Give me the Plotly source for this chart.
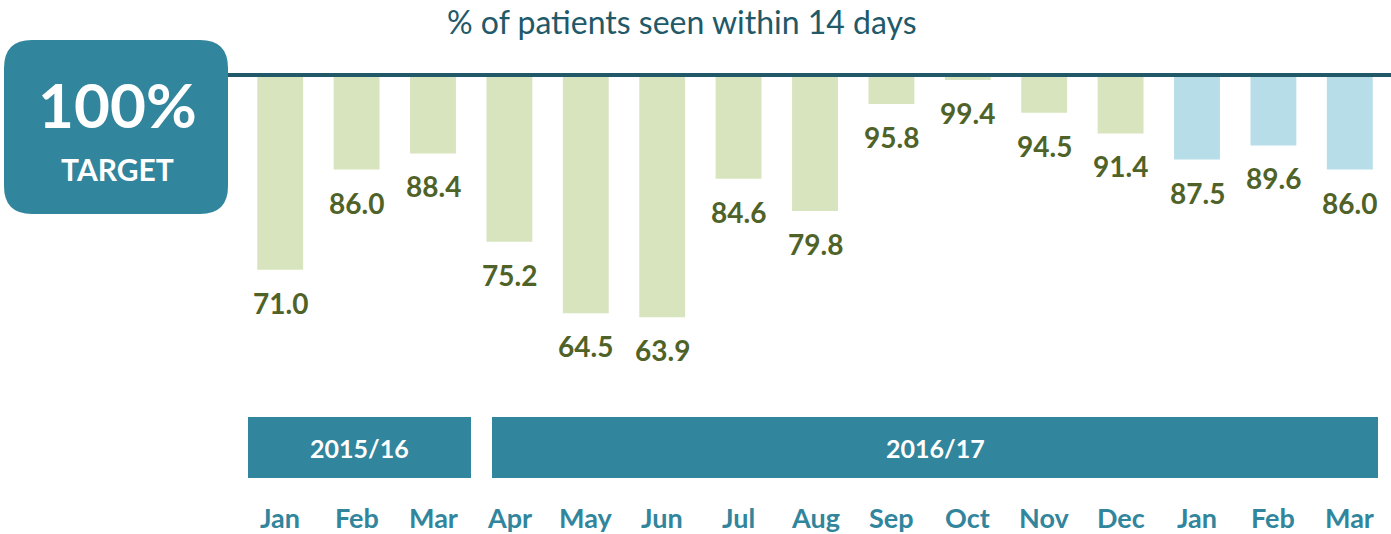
import plotly.graph_objects as go

# ---- data ----
months = ["Jan", "Feb", "Mar", "Apr", "May", "Jun", "Jul", "Aug", "Sep",
          "Oct", "Nov", "Dec", "Jan", "Feb", "Mar"]
values = [71.0, 86.0, 88.4, 75.2, 64.5, 63.9, 84.6, 79.8, 95.8,
          99.4, 94.5, 91.4, 87.5, 89.6, 86.0]
groups = ["a"] * 12 + ["b"] * 3          # colour groups of bars
target = 100
years = ["2015/16", "2016/17"]

# ---- styles ----
GREEN = "#d7e4bd"
BLUE = "#b7dee8"
LABEL = "#4f6228"
TEAL = "#31859c"
DARK = "#215968"
FONT = "Lato, Carlito, sans-serif"

W, H = 1391, 534
ML, MR, MT, MB = 242, 3, 76, 124
PW = W - ML - MR
PH = H - MT - MB
n = len(months)
step = PW / n


def px_x(px):   # pixel -> paper x
    return (px - ML) / PW


def px_y(py):   # pixel -> paper y
    return (H - MB - py) / PH


def px_dx(px):  # pixel -> data x
    return (px - ML) / step - 0.5


xs = list(range(n))
colors = [GREEN if g == "a" else BLUE for g in groups]

fig = go.Figure()
fig.add_trace(go.Bar(
    x=xs,
    base=values,
    y=[target - v for v in values],
    marker=dict(color=colors, line=dict(width=0)),
    width=0.6,
    hoverinfo="skip",
))

annotations = []
for x, v in zip(xs, values):
    annotations.append(dict(
        x=x, y=v, xref="x", yref="y", text=f"{v:.1f}", showarrow=False,
        xanchor="center", yanchor="top", yshift=-14,
        font=dict(family=FONT, size=28, color=LABEL, weight="bold"),
    ))

for x, m in zip(xs, months):
    annotations.append(dict(
        x=x, y=px_y(517), xref="x", yref="paper", text=m, showarrow=False,
        xanchor="center", yanchor="middle",
        font=dict(family=FONT, size=27, color=TEAL, weight="bold"),
    ))

# year boxes
year_spans = [(px_dx(248), px_dx(471)), (px_dx(492), px_dx(1378))]
shapes = []
for (x0, x1), lab in zip(year_spans, years):
    shapes.append(dict(type="rect", xref="x", yref="paper",
                       x0=x0, x1=x1, y0=px_y(478), y1=px_y(417),
                       fillcolor=TEAL, line=dict(width=0), layer="below"))
    annotations.append(dict(
        x=(x0 + x1) / 2, y=px_y(448), xref="x", yref="paper", text=lab,
        showarrow=False, xanchor="center", yanchor="middle",
        font=dict(family=FONT, size=25, color="white", weight="bold"),
    ))


# rounded target box
def rounded(x0, y0, x1, y1, r):
    X = lambda p: px_x(p)
    Y = lambda p: px_y(p)
    return (f"M {X(x0 + r)},{Y(y0)} L {X(x1 - r)},{Y(y0)} "
            f"Q {X(x1)},{Y(y0)} {X(x1)},{Y(y0 + r)} "
            f"L {X(x1)},{Y(y1 - r)} Q {X(x1)},{Y(y1)} {X(x1 - r)},{Y(y1)} "
            f"L {X(x0 + r)},{Y(y1)} Q {X(x0)},{Y(y1)} {X(x0)},{Y(y1 - r)} "
            f"L {X(x0)},{Y(y0 + r)} Q {X(x0)},{Y(y0)} {X(x0 + r)},{Y(y0)} Z")


shapes.append(dict(type="path", xref="paper", yref="paper",
                   path=rounded(4, 40, 228, 214, 28),
                   fillcolor=TEAL, line=dict(width=0)))

# target line
shapes.append(dict(type="line", xref="paper", yref="paper",
                   x0=px_x(228), x1=px_x(1391), y0=px_y(75), y1=px_y(75),
                   line=dict(color=DARK, width=4), layer="above"))

annotations.append(dict(
    x=px_x(117), y=px_y(104), xref="paper", yref="paper", text=f"{target}%",
    showarrow=False, xanchor="center", yanchor="middle",
    font=dict(family=FONT, size=62, color="white", weight="bold"),
))
annotations.append(dict(
    x=px_x(117), y=px_y(169), xref="paper", yref="paper", text="TARGET",
    showarrow=False, xanchor="center", yanchor="middle",
    font=dict(family=FONT, size=30, color="white", weight="bold"),
))
annotations.append(dict(
    x=px_x(682), y=px_y(22), xref="paper", yref="paper",
    text="% of patients seen within 14 days",
    showarrow=False, xanchor="center", yanchor="middle",
    font=dict(family=FONT, size=32, color=DARK),
))

fig.update_layout(
    width=W, height=H,
    margin=dict(l=ML, r=MR, t=MT, b=MB),
    paper_bgcolor="white", plot_bgcolor="white",
    showlegend=False,
    xaxis=dict(range=[-0.5, n - 0.5], visible=False),
    yaxis=dict(range=[50, 100], visible=False),
    shapes=shapes,
    annotations=annotations,
    font=dict(family=FONT),
)

fig.write_html("out.html", config={"displayModeBar": False})

# remove the default page margin so the figure sits at the window's corner
with open("out.html", encoding="utf-8") as f:
    html = f.read()
html = html.replace("<body>", '<body style="margin:0;overflow:hidden">', 1)
with open("out.html", "w", encoding="utf-8") as f:
    f.write(html)
